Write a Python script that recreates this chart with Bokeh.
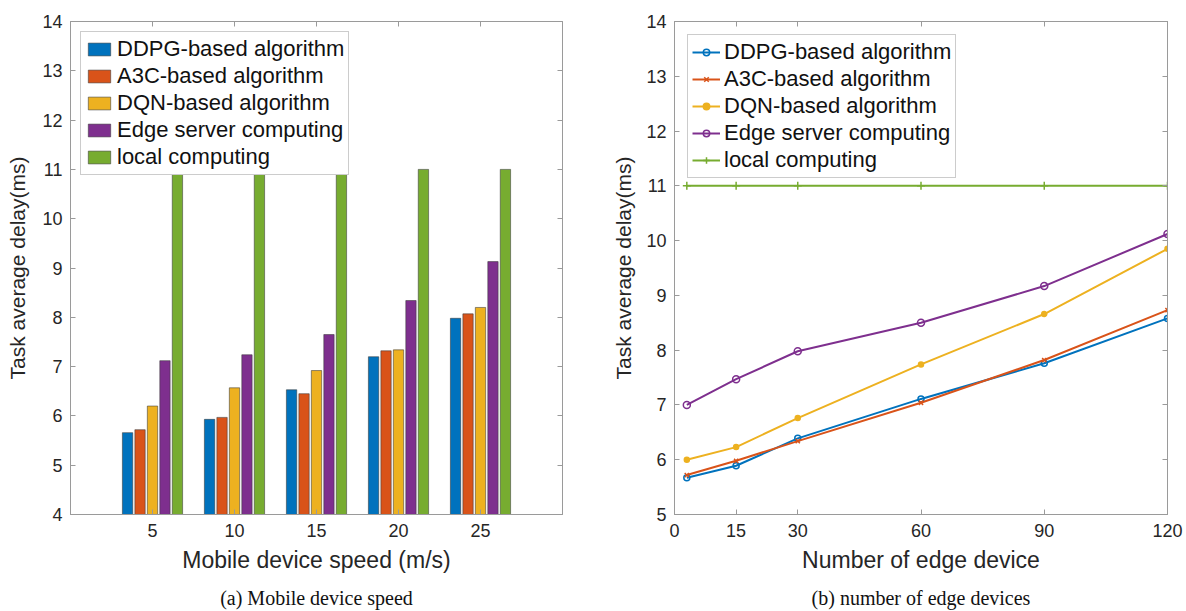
from bokeh.plotting import figure
from bokeh.layouts import row
from bokeh.models import LinearAxis, FixedTicker, Title, Range1d, ColumnDataSource
from bokeh.transform import dodge
from bokeh.embed import file_html
from bokeh.resources import INLINE

# ---------------- data ----------------
speeds = [5, 10, 15, 20, 25]
bar_ddpg = [5.66, 5.93, 6.53, 7.20, 7.98]
bar_a3c = [5.72, 5.97, 6.45, 7.32, 8.07]
bar_dqn = [6.20, 6.57, 6.92, 7.34, 8.20]
bar_edge = [7.12, 7.24, 7.65, 8.34, 9.13]
bar_local = [11.0, 11.0, 11.0, 11.0, 11.0]

devices = [3, 15, 30, 60, 90, 120]
line_ddpg = [5.67, 5.89, 6.39, 7.11, 7.76, 8.58]
line_a3c = [5.72, 5.98, 6.34, 7.04, 7.82, 8.73]
line_dqn = [6.00, 6.23, 6.76, 7.74, 8.66, 9.85]
line_edge = [7.00, 7.47, 7.98, 8.50, 9.17, 10.12]
line_local = [11.0, 11.0, 11.0, 11.0, 11.0, 11.0]

series_names = ["DDPG-based algorithm", "A3C-based algorithm", "DQN-based algorithm",
                "Edge server computing", "local computing"]
colors = ["#0072BD", "#D95319", "#EDB120", "#7E2F8E", "#77AC30"]

left_xticks = speeds
left_yticks = [4, 5, 6, 7, 8, 9, 10, 11, 12, 13, 14]
right_xticks = [0, 15, 30, 60, 90, 120]
right_yticks = [5, 6, 7, 8, 9, 10, 11, 12, 13, 14]

FONT = "Liberation Sans"
AX_COLOR = "#9a9a9a"
TXT_COLOR = "#262626"


def mirror_axis(ticks):
    return LinearAxis(ticker=FixedTicker(ticks=ticks), major_label_text_font_size="1px",
                      major_label_text_color=None, major_label_standoff=0,
                      axis_line_color=AX_COLOR, major_tick_line_color=AX_COLOR,
                      major_tick_in=5, major_tick_out=0, minor_tick_line_color=None)


def style_axes(p, xticks, yticks, ylabel, xlabel, caption, ylab_standoff, caption_standoff):
    p.xaxis.ticker = FixedTicker(ticks=xticks)
    p.yaxis.ticker = FixedTicker(ticks=yticks)
    p.xaxis.axis_label = xlabel
    p.yaxis.axis_label = ylabel
    for ax in p.xaxis + p.yaxis:
        ax.axis_line_color = AX_COLOR
        ax.major_tick_line_color = AX_COLOR
        ax.major_tick_in = 5
        ax.major_tick_out = 0
        ax.minor_tick_line_color = None
        ax.major_label_text_font = FONT
        ax.major_label_text_font_size = "18px"
        ax.major_label_text_color = TXT_COLOR
        ax.axis_label_text_font = FONT
        ax.axis_label_text_font_style = "normal"
        ax.axis_label_text_color = TXT_COLOR
    p.xaxis.axis_label_text_font_size = "23px"
    p.yaxis.axis_label_text_font_size = "21px"
    p.xaxis.major_label_standoff = 9
    p.yaxis.major_label_standoff = 8
    p.xaxis.axis_label_standoff = 7
    p.yaxis.axis_label_standoff = ylab_standoff
    # mirrored ticks on top and right
    p.add_layout(mirror_axis(xticks), "above")
    p.add_layout(mirror_axis(yticks), "right")
    p.xgrid.grid_line_color = None
    p.ygrid.grid_line_color = None
    p.outline_line_color = AX_COLOR
    p.add_layout(Title(text=caption, align="center", text_font="Liberation Serif",
                       text_font_style="normal", text_font_size="20px",
                       text_color="#111111", standoff=caption_standoff), "below")


def style_legend(lg, margin):
    lg.location = "top_left"
    lg.margin = margin
    lg.padding = 4
    lg.spacing = 1
    lg.label_height = 22
    lg.glyph_height = 16
    lg.glyph_width = 28
    lg.label_standoff = 4
    lg.label_text_font = FONT
    lg.label_text_font_size = "22px"
    lg.label_text_color = "#111111"
    lg.border_line_color = AX_COLOR
    lg.border_line_width = 1
    lg.background_fill_alpha = 1


# ---------------- left: bar chart ----------------
p1 = figure(frame_width=492, frame_height=493, min_border_left=70, min_border_right=30,
            min_border_top=21, min_border_bottom=97,
            x_range=Range1d(0, 30), y_range=Range1d(4, 14),
            output_backend="svg", toolbar_location=None,
            background_fill_color="white", border_fill_color="white")

bar_src = ColumnDataSource(dict(speed=speeds, ddpg=bar_ddpg, a3c=bar_a3c, dqn=bar_dqn,
                                edge=bar_edge, local=bar_local))
step = 0.76
bw = 0.63
for i, (key, name, col) in enumerate(zip(["ddpg", "a3c", "dqn", "edge", "local"],
                                         series_names, colors)):
    p1.vbar(x=dodge("speed", (i - 2) * step, range=p1.x_range), top=key, bottom=0,
            width=bw, source=bar_src, fill_color=col, line_color="#3a3a3a",
            line_width=0.8, line_alpha=0.7, legend_label=name)

style_axes(p1, left_xticks, left_yticks, "Task average delay(ms)",
           "Mobile device speed (m/s)", "(a) Mobile device speed", 10, 18)
style_legend(p1.legend[0], 10)

# ---------------- right: line chart ----------------
p2 = figure(frame_width=493, frame_height=493, min_border_left=82, min_border_right=19,
            min_border_top=21, min_border_bottom=97,
            x_range=Range1d(0, 120), y_range=Range1d(5, 14),
            output_backend="svg", toolbar_location=None,
            background_fill_color="white", border_fill_color="white")

line_src = ColumnDataSource(dict(dev=devices, ddpg=line_ddpg, a3c=line_a3c, dqn=line_dqn,
                                 edge=line_edge, local=line_local))
markers = ["circle", "x", "circle", "circle", "cross"]
msizes = [6, 6, 5, 7, 8]
for key, name, col, mk, ms in zip(["ddpg", "a3c", "dqn", "edge", "local"],
                                  series_names, colors, markers, msizes):
    p2.line(x="dev", y=key, source=line_src, line_color=col, line_width=2, legend_label=name)
    p2.scatter(x="dev", y=key, source=line_src, marker=mk, size=ms,
               fill_color=col if key == "dqn" else None, line_color=col,
               line_width=1.5, legend_label=name)

style_axes(p2, right_xticks, right_yticks, "Task average delay(ms)",
           "Number of edge device", "(b) number of edge devices", 8, 18)
style_legend(p2.legend[0], 13)

layout = row(p1, p2)
open("out.html", "w").write(file_html(layout, INLINE))
